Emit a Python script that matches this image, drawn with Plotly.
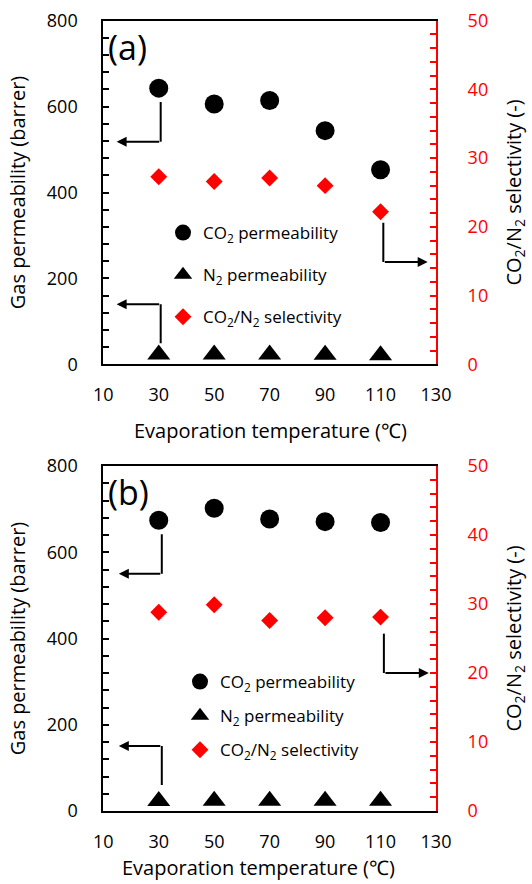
import plotly.graph_objects as go

# Evaporation temperatures (°C)
temps = [30, 50, 70, 90, 110]

# Panel (a)
co2_perm_a = [643, 606, 614, 544, 453]
n2_perm_a = [23, 23, 23, 22, 21]
selectivity_a = [27.3, 26.6, 27.1, 26.0, 22.2]

# Panel (b)
co2_perm_b = [674, 702, 677, 671, 669]
n2_perm_b = [23, 24, 24, 24, 24]
selectivity_b = [28.8, 29.9, 27.6, 28.0, 28.1]

x_ticks = [10, 30, 50, 70, 90, 110, 130]

FONT = "Open Sans"
RED = "#ff0000"

names = ["CO<sub>2</sub> permeability", "N<sub>2</sub> permeability",
         "CO<sub>2</sub>/N<sub>2</sub> selectivity"]
x_title = "Evaporation temperature (℃)"

fig = go.Figure()

panels = [
    dict(x="x", y="y", y2="y2", legend="legend", tag="a",
         co2=co2_perm_a, n2=n2_perm_a, sel=selectivity_a),
    dict(x="x2", y="y3", y2="y4", legend="legend2", tag="b",
         co2=co2_perm_b, n2=n2_perm_b, sel=selectivity_b),
]

for p in panels:
    fig.add_trace(go.Scatter(
        x=temps, y=p["co2"], mode="markers", name=names[0],
        xaxis=p["x"], yaxis=p["y"], legend=p["legend"], legendgroup=p["tag"] + "1",
        marker=dict(symbol="circle", size=19, color="black")))
    fig.add_trace(go.Scatter(
        x=temps, y=p["n2"], mode="markers", name=names[1],
        xaxis=p["x"], yaxis=p["y"], legend=p["legend"], legendgroup=p["tag"] + "2",
        marker=dict(symbol="triangle-up", size=20, color="black")))
    fig.add_trace(go.Scatter(
        x=temps, y=p["sel"], mode="markers", name=names[2],
        xaxis=p["x"], yaxis=p["y2"], legend=p["legend"], legendgroup=p["tag"] + "3",
        marker=dict(symbol="diamond", size=13, color=RED)))

# Pointer arrows: (xref, yref, vertical start, corner, arrow tip)
pointers = [
    ("x", "y", (30.7, 611), (30.7, 518), (14.8, 518)),
    ("x", "y", (30.7, 49), (30.7, 140), (14.8, 140)),
    ("x", "y2", (111, 20.6), (111, 14.9), (127, 14.9)),
    ("x2", "y3", (31.1, 642), (31.1, 550), (15.6, 550)),
    ("x2", "y3", (31.1, 60), (31.1, 151), (15.6, 151)),
    ("x2", "y4", (111.2, 25.7), (111.2, 20.0), (127.4, 20.0)),
]
for xr, yr, start, corner, tip in pointers:
    fig.add_shape(type="line", xref=xr, yref=yr,
                  x0=start[0], y0=start[1], x1=corner[0], y1=corner[1],
                  line=dict(color="black", width=2))
    fig.add_annotation(xref=xr, yref=yr, axref=xr, ayref=yr,
                       x=tip[0], y=tip[1], ax=corner[0], ay=corner[1],
                       text="", showarrow=True, arrowhead=2, arrowsize=1,
                       arrowwidth=2, arrowcolor="black")

W, H = 532, 884
xdom = [103.3 / W, 436 / W]
ydom_a = [1 - 364.3 / H, 1 - 20.7 / H]
ydom_b = [1 - 811 / H, 1 - 466 / H]

tickfont = dict(family=FONT, size=18, color="black")
titlefont = dict(family=FONT, size=20, color="black")

def x_axis(domain_anchor):
    return dict(domain=xdom, anchor=domain_anchor, range=[10, 130], automargin=False,
                tickvals=x_ticks, ticks="", showgrid=False, zeroline=False,
                showline=True, linecolor="black", linewidth=2, mirror=True,
                tickfont=tickfont, ticklabelstandoff=13)

def left_axis(domain, anchor):
    return dict(domain=domain, anchor=anchor, range=[0, 800], dtick=200, automargin=False,
                ticks="inside", ticklen=6, tickwidth=2, tickcolor="black",
                minor=dict(dtick=40, ticks="inside", ticklen=6, tickwidth=2, tickcolor="black"),
                showgrid=False, zeroline=False, showline=True, linecolor="black",
                linewidth=2, tickfont=tickfont, ticklabelstandoff=20,
                title=dict(text="Gas permeability (barrer)", font=titlefont, standoff=16))

def right_axis(overlay, anchor):
    return dict(overlaying=overlay, anchor=anchor, side="right", range=[0, 50], dtick=10,
                automargin=False,
                ticks="inside", ticklen=6, tickwidth=2, tickcolor=RED,
                minor=dict(dtick=2, ticks="inside", ticklen=6, tickwidth=2, tickcolor=RED),
                showgrid=False, zeroline=False, showline=True, linecolor=RED,
                linewidth=2, tickfont=dict(family=FONT, size=18, color=RED),
                ticklabelstandoff=26,
                title=dict(text="CO<sub>2</sub>/N<sub>2</sub> selectivity (-)",
                           font=titlefont, standoff=20))

def legend_box(x, y, gap):
    return dict(x=x, y=y, xanchor="left", yanchor="top", bgcolor="rgba(0,0,0,0)",
                font=dict(family=FONT, size=17, color="black"),
                traceorder="grouped", tracegroupgap=gap, itemsizing="trace")

fig.update_layout(
    width=W, height=H, margin=dict(l=0, r=0, t=0, b=0, autoexpand=False),
    paper_bgcolor="white", plot_bgcolor="white",
    font=dict(family=FONT, color="black"),
    xaxis=x_axis("y"), yaxis=left_axis(ydom_a, "x"), yaxis2=right_axis("y", "x"),
    xaxis2=x_axis("y3"), yaxis3=left_axis(ydom_b, "x2"), yaxis4=right_axis("y3", "x2"),
    legend=legend_box(163 / W, 1 - 215 / H, 17),
    legend2=legend_box(180 / W, 1 - 664 / H, 9),
    showlegend=True,
)

# x-axis titles below each panel
for cx, cy in [(270, 430), (258, 867)]:
    fig.add_annotation(xref="paper", yref="paper", x=cx / W, y=1 - cy / H,
                       xanchor="center", yanchor="middle", text=x_title,
                       showarrow=False, font=titlefont)

# Panel labels
for xr, yr, label in [("x", "y", "(a)"), ("x2", "y3", "(b)")]:
    fig.add_annotation(xref=xr, yref=yr, x=10, y=800, xanchor="left", yanchor="top",
                       xshift=3, yshift=-1, text=label, showarrow=False,
                       font=dict(family=FONT, size=34, color="black"))

fig.write_html("out.html")
